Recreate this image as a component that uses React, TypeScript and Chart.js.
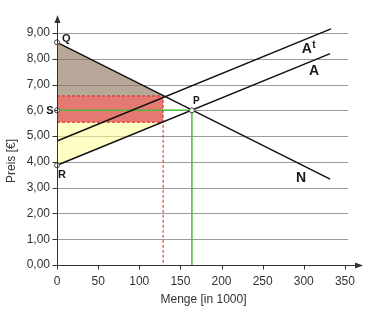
import { useEffect, useRef } from "react";
import { Chart, registerables } from "chart.js";
Chart.register(...registerables);

const xTickValues = [0, 50, 100, 150, 200, 250, 300, 350];
const yTickValues = [0, 1, 2, 3, 4, 5, 6, 7, 8, 9];
const demandN = [{ x: 0, y: 8.64 }, { x: 332, y: 3.33 }];
const supplyA = [{ x: 0, y: 3.87 }, { x: 332, y: 8.2 }];
const supplyAt = [{ x: 0, y: 4.81 }, { x: 333, y: 9.16 }];
const pointQ = { x: 0, y: 8.64 };
const pointS = { x: 0, y: 6.0 };
const pointR = { x: 0, y: 3.87 };
const pointP = { x: 164, y: 6.0 };
const taxQuantity = 129;
const consumerPrice = 6.56;
const producerPrice = 5.54;
const xAxisEnd = 372;
const yAxisEnd = 9.7;
const gridEnd = 354;

const FONT = "'Liberation Sans', Arial, sans-serif";

const overlay = {
  id: "overlay",
  beforeDatasetsDraw(chart: any) {
    const { ctx, scales } = chart;
    const xs = scales.x, ys = scales.y;
    ctx.save();
    ctx.strokeStyle = "#9c9c9c";
    ctx.lineWidth = 1;
    const x0 = xs.getPixelForValue(0);
    const x1 = xs.getPixelForValue(gridEnd);
    yTickValues.forEach((v) => {
      if (v === 0) return;
      const y = Math.round(ys.getPixelForValue(v)) + 0.5;
      ctx.beginPath();
      ctx.moveTo(x0, y);
      ctx.lineTo(x1, y);
      ctx.stroke();
    });
    ctx.restore();
  },
  afterDatasetsDraw(chart: any) {
    const { ctx, scales } = chart;
    const xs = scales.x, ys = scales.y;
    const X = (v: number) => xs.getPixelForValue(v);
    const Y = (v: number) => ys.getPixelForValue(v);
    ctx.save();
    const ax = Math.round(X(0)) + 0.5;
    const ay = Math.round(Y(0)) + 0.5;
    ctx.strokeStyle = "#333";
    ctx.fillStyle = "#333";
    ctx.lineWidth = 1;
    // y axis
    const yTop = Y(yAxisEnd);
    ctx.beginPath();
    ctx.moveTo(ax, ay + 4);
    ctx.lineTo(ax, yTop + 6);
    ctx.stroke();
    ctx.beginPath();
    ctx.moveTo(ax, yTop);
    ctx.lineTo(ax - 3, yTop + 8);
    ctx.lineTo(ax + 3, yTop + 8);
    ctx.closePath();
    ctx.fill();
    // x axis
    const xRight = X(xAxisEnd);
    ctx.beginPath();
    ctx.moveTo(ax, ay);
    ctx.lineTo(xRight - 6, ay);
    ctx.stroke();
    ctx.beginPath();
    ctx.moveTo(xRight, ay);
    ctx.lineTo(xRight - 8, ay - 3);
    ctx.lineTo(xRight - 8, ay + 3);
    ctx.closePath();
    ctx.fill();
    // ticks
    yTickValues.forEach((v) => {
      const y = Math.round(Y(v)) + 0.5;
      ctx.beginPath();
      ctx.moveTo(ax - 5, y);
      ctx.lineTo(ax, y);
      ctx.stroke();
    });
    xTickValues.forEach((v) => {
      if (v === 0) return;
      const x = Math.round(X(v)) + 0.5;
      ctx.beginPath();
      ctx.moveTo(x, ay);
      ctx.lineTo(x, ay + 4);
      ctx.stroke();
    });
    // labels
    ctx.fillStyle = "#1a1a1a";
    ctx.textBaseline = "alphabetic";
    ctx.textAlign = "left";
    ctx.font = `bold 11px ${FONT}`;
    ctx.fillText("Q", X(pointQ.x) + 5, Y(pointQ.y));
    ctx.fillText("R", X(pointR.x) + 1, Y(pointR.y) + 12.5);
    // S with white backing
    ctx.fillStyle = "#fff";
    ctx.fillRect(ax - 14, Y(pointS.y) - 6, 10.5, 12);
    ctx.fillStyle = "#1a1a1a";
    ctx.textAlign = "right";
    ctx.fillText("S", ax - 4, Y(pointS.y) + 4);
    ctx.textAlign = "left";
    ctx.font = `bold 10px ${FONT}`;
    ctx.fillText("P", X(pointP.x) + 1, Y(pointP.y) - 6.5);
    ctx.font = `bold 14px ${FONT}`;
    ctx.fillText("N", X(290.5), Y(3.21));
    ctx.fillText("A", X(306.3), Y(7.37));
    ctx.fillText("A", X(297.5), Y(8.21));
    ctx.font = `bold 10px ${FONT}`;
    ctx.fillText("t", X(297.5) + 10.5, Y(8.21) - 5.8);
    // axis titles
    ctx.fillStyle = "#333";
    ctx.font = `12px ${FONT}`;
    ctx.textAlign = "center";
    ctx.textBaseline = "middle";
    ctx.fillText("Menge [in 1000]", 203.5, 300);
    ctx.save();
    ctx.translate(12, 161);
    ctx.rotate(-Math.PI / 2);
    ctx.fillText("Preis [€]", 0, 0);
    ctx.restore();
    ctx.restore();
  },
};

export default function App() {
  const ref = useRef<HTMLCanvasElement | null>(null);
  useEffect(() => {
    if (!ref.current) return;
    const base = { pointRadius: 0, tension: 0, clip: false as any, fill: false };
    const chart = new Chart(ref.current, {
      type: "line",
      data: {
        datasets: [
          {
            ...base,
            label: "KR",
            data: [{ x: 0, y: 8.64 }, { x: taxQuantity, y: consumerPrice }],
            borderWidth: 0,
            borderColor: "rgba(0,0,0,0)",
            backgroundColor: "rgba(137,110,85,0.6)",
            fill: { value: consumerPrice },
            order: 20,
          },
          {
            ...base,
            label: "Steuer",
            data: [{ x: 0, y: consumerPrice }, { x: taxQuantity, y: consumerPrice }],
            borderWidth: 0,
            borderColor: "rgba(0,0,0,0)",
            backgroundColor: "rgba(212,33,20,0.6)",
            fill: { value: producerPrice },
            order: 20,
          },
          {
            ...base,
            label: "PR",
            data: [{ x: 0, y: 3.87 }, { x: taxQuantity, y: producerPrice }],
            borderWidth: 0,
            borderColor: "rgba(0,0,0,0)",
            backgroundColor: "rgba(255,255,150,0.55)",
            fill: { value: producerPrice },
            order: 20,
          },
          {
            ...base,
            label: "top",
            data: [{ x: 0, y: consumerPrice }, { x: taxQuantity, y: consumerPrice }, { x: taxQuantity, y: 0 }],
            borderWidth: 1,
            borderColor: "#e0201c",
            borderDash: [3, 2],
            order: 15,
          },
          {
            ...base,
            label: "bottom",
            data: [{ x: 0, y: producerPrice }, { x: taxQuantity, y: producerPrice }],
            borderWidth: 1,
            borderColor: "#e0201c",
            borderDash: [3, 2],
            order: 15,
          },
          {
            ...base,
            label: "green",
            data: [pointS, pointP, { x: pointP.x, y: 0 }],
            borderWidth: 1.5,
            borderColor: "#4cbb3c",
            order: 12,
          },
          { ...base, label: "N", data: demandN, borderWidth: 1.5, borderColor: "#111", order: 5 },
          { ...base, label: "A", data: supplyA, borderWidth: 1.5, borderColor: "#111", order: 5 },
          { ...base, label: "At", data: supplyAt, borderWidth: 1.5, borderColor: "#111", order: 5 },
          {
            label: "points",
            data: [pointQ, pointS, pointR, pointP],
            showLine: false,
            pointRadius: 2.5,
            pointBackgroundColor: "#fff",
            pointBorderColor: "#444",
            pointBorderWidth: 1,
            clip: false as any,
            order: 1,
          },
        ],
      },
      options: {
        animation: false,
        responsive: true,
        maintainAspectRatio: false,
        layout: { padding: { top: 15, right: 12, left: 0, bottom: 0 } },
        plugins: { legend: { display: false }, tooltip: { enabled: false } },
        events: [],
        scales: {
          x: {
            type: "linear",
            min: 0,
            max: xAxisEnd,
            grid: { display: false, drawTicks: false },
            border: { display: false },
            afterBuildTicks: (s: any) => {
              s.ticks = xTickValues.map((v) => ({ value: v }));
            },
            afterFit: (s: any) => {
              s.height = 56;
            },
            ticks: {
              padding: 9,
              color: "#333",
              font: { family: FONT, size: 12 },
              maxRotation: 0,
              autoSkip: false,
            },
          },
          y: {
            type: "linear",
            min: 0,
            max: yAxisEnd,
            grid: { display: false, drawTicks: false },
            border: { display: false },
            afterBuildTicks: (s: any) => {
              s.ticks = yTickValues.map((v) => ({ value: v }));
            },
            afterFit: (s: any) => {
              s.width = 57;
            },
            ticks: {
              padding: 7,
              color: "#333",
              font: { family: FONT, size: 12 },
              callback: (v: any) => Number(v).toFixed(2).replace(".", ","),
            },
          },
        },
      },
      plugins: [overlay],
    });
    return () => chart.destroy();
  }, []);
  return (
    <div style={{ position: "absolute", left: 0, top: 0, width: 375, height: 321, background: "#fff" }}>
      <canvas ref={ref} />
    </div>
  );
}
